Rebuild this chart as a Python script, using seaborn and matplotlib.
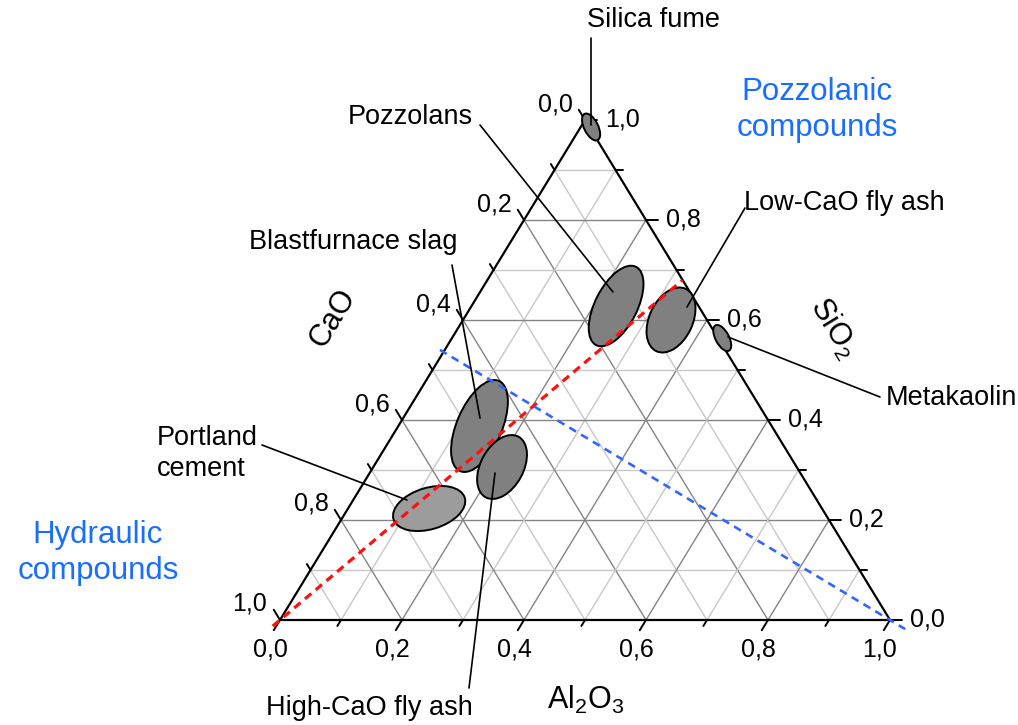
import numpy as np
import pandas as pd
import matplotlib
matplotlib.use("Agg")
import matplotlib.pyplot as plt
from matplotlib.patches import Ellipse
import seaborn as sns

# ---- data: oxide fields of cementitious materials (mass fractions) ----
materials = ["Silica fume", "Pozzolans", "Low-CaO fly ash", "Metakaolin",
             "Blastfurnace slag", "High-CaO fly ash", "Portland cement"]
sio2 = [0.986, 0.628, 0.600, 0.564, 0.388, 0.306, 0.223]
al2o3 = [0.017, 0.237, 0.341, 0.443, 0.133, 0.211, 0.133]
# extent of each field along its long / short direction and its orientation
field_long = [0.048, 0.144, 0.113, 0.047, 0.161, 0.113, 0.122]
field_short = [0.023, 0.069, 0.071, 0.022, 0.074, 0.070, 0.068]
field_angle = [116.5, 63.0, 64.8, 118.0, 66.7, 61.6, 16.7]

tick_values = [0.0, 0.2, 0.4, 0.6, 0.8, 1.0]
tick_labels = ["0,0", "0,2", "0,4", "0,6", "0,8", "1,0"]

# CaO -> SiO2/Al2O3 join and the hydraulic / pozzolanic boundary
join_sio2 = [0.0, 0.68]
join_al2o3 = [0.0, 0.32]
boundary_sio2 = [0.536, 0.0]
boundary_al2o3 = [0.0, 1.0]

# ---- styling ----
sns.set_theme(style="white")
plt.rcParams["font.family"] = ["Liberation Sans", "DejaVu Sans"]
plt.rcParams["text.color"] = "black"
plt.rcParams["mathtext.fontset"] = "custom"
plt.rcParams["mathtext.rm"] = "Liberation Sans"
plt.rcParams["mathtext.it"] = "Liberation Sans:italic"
plt.rcParams["mathtext.bf"] = "Liberation Sans:bold"

H = 500 / 610          # height of the triangle relative to its base
PX = 1 / 610           # one pixel in axis units


def cart(si, al):
    si = np.asarray(si, dtype=float)
    al = np.asarray(al, dtype=float)
    return al + si / 2, si * H


fig = plt.figure(figsize=(10.18, 7.25), dpi=100)
ax = fig.add_axes([0, 0, 1, 1])
ax.set_xlim(-280 * PX, (1018 - 280) * PX)
ax.set_ylim((620 - 725) * PX, 620 * PX)
ax.axis("off")

# ---- grid ----
for k in range(1, 10):
    v = k / 10
    col = "#858585" if k % 2 == 0 else "#c8c8c8"
    segs = [
        ((v, 0.0), (v, 1 - v)),          # constant SiO2
        ((1 - v, 0.0), (0.0, 1 - v)),    # constant CaO
        ((1 - v, v), (0.0, v)),          # constant Al2O3
    ]
    for (s0, a0), (s1, a1) in segs:
        x, y = cart([s0, s1], [a0, a1])
        ax.plot(x, y, color=col, lw=1.0, zorder=1)

# ---- triangle outline ----
tx, ty = cart([0, 1, 0, 0], [0, 0, 1, 0])
ax.plot(tx, ty, color="black", lw=1.6, zorder=3, solid_joinstyle="miter")

# ---- ticks ----
L = np.hypot(0.5, H)
d_bottom = np.array([-0.5, -H]) / L
d_left = np.array([-0.5, H]) / L
d_right = np.array([1.0, 0.0])
for k in range(11):
    v = k / 10
    ln = (12 if k % 2 == 0 else 7) * PX
    # Al2O3 on the base
    p = np.array(cart(0, v))
    ax.plot([p[0], p[0] + d_bottom[0] * ln], [p[1], p[1] + d_bottom[1] * ln],
            color="black", lw=1.4, zorder=3)
    # SiO2 on the right side
    p = np.array(cart(v, 1 - v))
    ax.plot([p[0], p[0] + d_right[0] * ln], [p[1], p[1]],
            color="black", lw=1.4, zorder=3)
    # CaO on the left side
    p = np.array(cart(1 - v, 0))
    ax.plot([p[0], p[0] + d_left[0] * ln], [p[1], p[1] + d_left[1] * ln],
            color="black", lw=1.4, zorder=3)

fs_tick = 18
for v, lab in zip(tick_values, tick_labels):
    x, y = cart(0, v)
    ax.text(x - 10 * PX, y - 30 * PX, lab, ha="center", va="center", fontsize=fs_tick)
    x, y = cart(v, 1 - v)
    ax.text(x + 20 * PX, y + 1 * PX, lab, ha="left", va="center", fontsize=fs_tick)
    x, y = cart(1 - v, 0)
    ax.text(x - 30 * PX, y + 16 * PX, lab, ha="center", va="center", fontsize=fs_tick)

# ---- material fields ----
for name, s, a, w, h, ang in zip(materials, sio2, al2o3, field_long, field_short, field_angle):
    cx, cy = cart(s, a)
    fc = "#9c9c9c" if name == "Portland cement" else "#808080"
    ax.add_patch(Ellipse((float(cx), float(cy)), w, h, angle=ang,
                         facecolor=fc, edgecolor="black", lw=1.4, zorder=4))

# ---- dashed lines ----
def line_frame(si, al, before, after):
    x, y = cart(si, al)
    dx, dy = x[1] - x[0], y[1] - y[0]
    xs = [x[0] - before * dx, x[1] + after * dx]
    ys = [y[0] - before * dy, y[1] + after * dy]
    return pd.DataFrame({"x": xs, "y": ys})

sns.lineplot(data=line_frame(join_sio2, join_al2o3, 0.018, 0.0), x="x", y="y",
             sort=False, estimator=None, color="#ff1010", lw=2.3,
             linestyle=(0, (2.6, 1.8)), ax=ax, zorder=6, legend=False)
sns.lineplot(data=line_frame(boundary_sio2, boundary_al2o3, 0.008, 0.034), x="x", y="y",
             sort=False, estimator=None, color="#3366ff", lw=1.9,
             linestyle=(0, (3.0, 2.2)), ax=ax, zorder=6, legend=False)

# ---- labels with leader lines (pixel positions converted to axis units) ----
def P(px, py):
    return (px - 280) * PX, (620 - py) * PX

leaders = [
    ((591, 38), (591, 125)),
    ((480, 125), (613, 292)),
    ((745, 208), (687, 307)),
    ((728, 337), (880, 397)),
    ((452, 265), (480, 418)),
    ((262, 445), (407, 500)),
    ((469, 688), (495, 473)),
]
for p0, p1 in leaders:
    x0, y0 = P(*p0)
    x1, y1 = P(*p1)
    ax.plot([x0, x1], [y0, y1], color="black", lw=1.2, zorder=7)

fs_lab = 19.5
label_spec = [
    ("Silica fume", (587, 20), "left"),
    ("Pozzolans", (410, 117), "center"),
    ("Low-CaO fly ash", (744, 203), "left"),
    ("Metakaolin", (886, 398), "left"),
    ("Blastfurnace slag", (353, 242), "center"),
    ("Portland\ncement", (157, 453), "left"),
    ("High-CaO fly ash", (369, 708), "center"),
]
for txt, (px, py), ha in label_spec:
    x, y = P(px, py)
    ax.text(x, y, txt, ha=ha, va="center", fontsize=fs_lab, linespacing=1.25,
            multialignment="left", zorder=8)

# ---- axis titles ----
x, y = P(333, 318)
ax.text(x, y, "CaO", rotation=58.6, ha="center", va="center", fontsize=22)
x, y = P(833, 328)
ax.text(x, y, r"SiO$_2$", rotation=-58.6, ha="center", va="center", fontsize=22)
x, y = P(586, 700)
ax.text(x, y, r"Al$_2$O$_3$", ha="center", va="center", fontsize=22)

# ---- region captions ----
blue = "#1a6eff"
x, y = P(817, 110)
ax.text(x, y, "Pozzolanic\ncompounds", ha="center", va="center", fontsize=22.5,
        color=blue, linespacing=1.3)
x, y = P(98, 553)
ax.text(x, y, "Hydraulic\ncompounds", ha="center", va="center", fontsize=22.5,
        color=blue, linespacing=1.3)

fig.savefig("out.png", dpi=100)
